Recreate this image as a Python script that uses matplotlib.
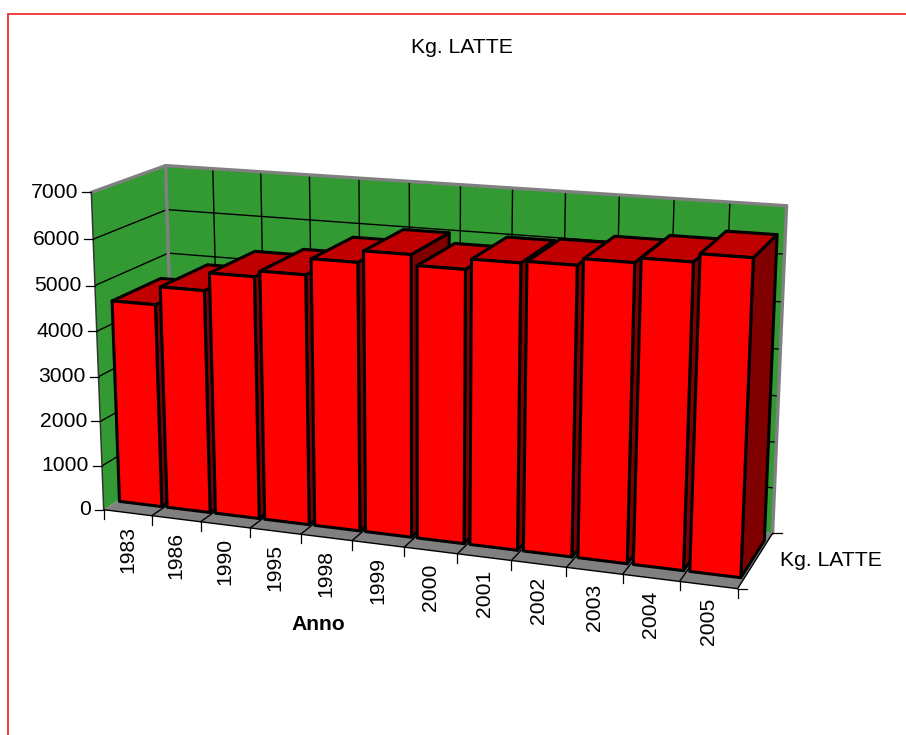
import numpy as np
import matplotlib
matplotlib.use("Agg")
import matplotlib.pyplot as plt
from matplotlib.patches import Polygon

years = ["1983","1986","1990","1995","1998","1999","2000","2001","2002","2003","2004","2005"]
latte = [4530,4930,5320,5450,5800,6050,5830,6050,6090,6230,6330,6500]
y_ticks = [0,1000,2000,3000,4000,5000,6000,7000]
title = "Kg. LATTE"
x_title = "Anno"
series_name = "Kg. LATTE"

plt.rcParams['font.family'] = ['Liberation Sans', 'DejaVu Sans']
W, H = 906, 735
fig = plt.figure(figsize=(W/100, H/100), dpi=100)
ax = fig.add_axes([0, 0, 1, 1])
ax.set_xlim(0, W); ax.set_ylim(H, 0); ax.axis('off')

# camera calibration: world (category, value, depth) -> picture
calib = [
 (0,7000,0,90.5,192),(0,6000,0,93,239),(0,5000,0,95.7,285),(0,4000,0,98,331),(0,0,0,103,509),
 (1,0,0,152,516),(2,0,0,201,522),(3,0,0,251,528),(4,0,0,300,534),(5,0,0,352,541),(6,0,0,404,548),
 (7,0,0,457,554),(8,0,0,511,561),(11,0,0,679,582),(12,0,0,738,588),
 (0,7000,1,165.5,166),(0,6000,1,166.5,210),(0,5000,1,168,253),
 (6,7000,1,461,185),(12,7000,1,787,206),(12,5000,1,782,302),(12,3000,1,778,396),(12,1000,1,775,487),(12,0,1,773,533),
]
A = []
for X,Y,Z,u,v in calib:
    Y = Y/1000
    A.append([X,Y,Z,1,0,0,0,0,-u*X,-u*Y,-u*Z,-u])
    A.append([0,0,0,0,X,Y,Z,1,-v*X,-v*Y,-v*Z,-v])
P = np.linalg.svd(np.array(A))[2][-1].reshape(3,4)
def pr(x, y, z):
    h = P @ np.array([x, y/1000, z, 1.0])
    return (h[0]/h[2], h[1]/h[2])

n = len(years); top = y_ticks[-1]
GREEN, GREY = '#339933', '#808080'
def face(pts, fc, ec='none', lw=0, zo=1):
    ax.add_patch(Polygon([pr(*p) for p in pts], closed=True, fc=fc, ec=ec, lw=lw, joinstyle='round', zorder=zo))
def line(a, b, c='black', lw=1.0, zo=2):
    p, q = pr(*a), pr(*b)
    ax.plot([p[0],q[0]], [p[1],q[1]], color=c, lw=lw, zorder=zo, solid_capstyle='round')

# walls and floor
face([(0,0,1),(n,0,1),(n,top,1),(0,top,1)], GREEN)
face([(0,0,0),(0,0,1),(0,top,1),(0,top,0)], GREEN)
face([(0,0,0),(n,0,0),(n,0,1),(0,0,1)], GREY)
# gridlines
for v in y_ticks[1:-1]:
    line((0,v,0),(0,v,1)); line((0,v,1),(n,v,1))
for i in range(1,n):
    line((i,0,1),(i,top,1))
    line((i,0,0),(i,0,1))
# wall borders
line((0,top,0),(0,top,1),GREY,2.4,3); line((0,top,1),(n,top,1),GREY,2.4,3)
line((0,0,1),(0,top,1),GREY,2.4,3); line((n,0,1),(n,top,1),GREY,2.4,3)
# axes and ticks
line((0,0,0),(0,top,0),'#333333',1.1,3)
line((0,0,0),(n,0,0),'black',1.0,3)
line((n,0,0),(n,0,1),'black',1.0,3)
for v in y_ticks:
    u0, v0 = pr(0,v,0)
    ax.plot([u0-9,u0],[v0,v0],color='black',lw=0.9,zorder=3)
    ax.text(u0-13, v0, f"{v}", ha='right', va='center', fontsize=15.2, color='black')
for i in range(n+1):
    u0, v0 = pr(i,0,0)
    ax.plot([u0,u0],[v0,v0+9],color='black',lw=0.9,zorder=3)
for z in (0,1):
    u0, v0 = pr(n,0,z)
    ax.plot([u0,u0+9],[v0,v0],color='black',lw=0.9,zorder=3)

# bars
x0, x1, z0, z1 = 0.05, 0.94, 0.18, 0.85
for i,val in enumerate(latte):
    a, b = i+x0, i+x1
    zo = 5+i
    face([(b,0,z0),(b,0,z1),(b,val,z1),(b,val,z0)], '#800000','black',2.2,zo)
    face([(a,val,z0),(b,val,z0),(b,val,z1),(a,val,z1)], '#C00000','black',2.2,zo)
    face([(a,0,z0),(b,0,z0),(b,val,z0),(a,val,z0)], '#FF0000','black',2.2,zo)

# labels
for i,y in enumerate(years):
    u0, v0 = pr(i+0.5,0,0)
    ax.text(u0, v0+13, y, rotation=90, ha='center', va='top', fontsize=15.2, color='black')
ax.text(462, 47, title, ha='center', va='center', fontsize=15.2, color='black')
ax.text(318, 625, x_title, ha='center', va='center', fontsize=15.2, fontweight='bold', color='black')
ax.text(831, 560, series_name, ha='center', va='center', fontsize=15.2, color='black')

# chart-area border (clipped by the picture at right and bottom)
ax.plot([7.5,7.5,W],[H,13.8,13.8],color='#F03030',lw=1.3,zorder=1,solid_joinstyle='miter')

fig.savefig("out.png", dpi=100)
